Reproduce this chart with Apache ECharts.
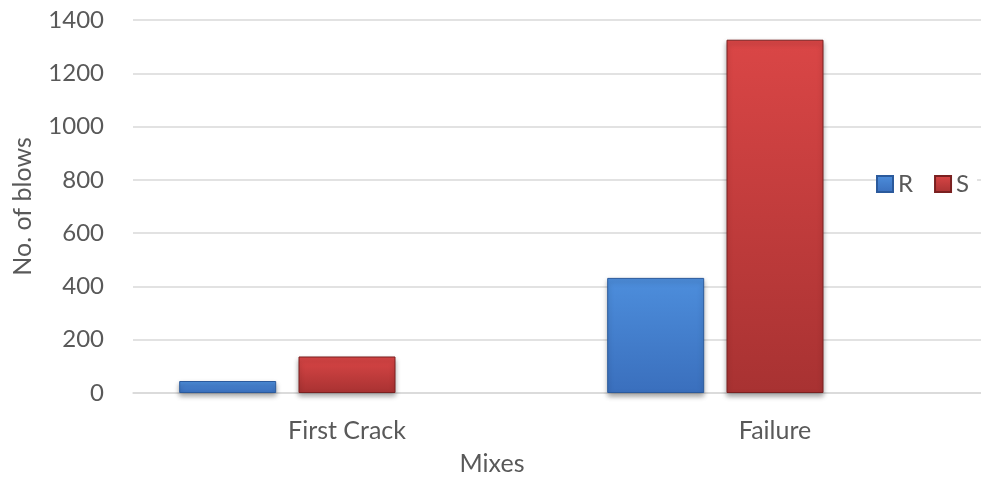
<!DOCTYPE html>
<html>
<head>
<meta charset="utf-8">
<script src="https://cdn.jsdelivr.net/npm/echarts@6/dist/echarts.min.js"></script>
<style>
html,body{margin:0;padding:0;background:#fff;overflow:hidden;width:981px;height:481px;}
#chart{width:1000px;height:481px;}
</style>
</head>
<body>
<div id="chart"></div>
<script>
const categories = ['First Crack', 'Failure'];
const seriesNames = ['R', 'S'];
const valuesR = [45, 432];
const valuesS = [137, 1326];
const yTicks = { min: 0, max: 1400, interval: 200 };
const xTitle = 'Mixes';
const yTitle = 'No. of blows';

const FONT = 'Lato, "Liberation Sans", sans-serif';
const TXT = '#595959';
const FS = 25;

function grad(top, bottom) {
  return new echarts.graphic.LinearGradient(0, 0, 0, 1, [
    { offset: 0, color: top },
    { offset: 1, color: bottom }
  ]);
}

const chart = echarts.init(document.getElementById('chart'), null, { renderer: 'canvas' });
chart.setOption({
  backgroundColor: '#fff',
  animation: false,
  textStyle: { fontFamily: FONT },
  title: {
    text: xTitle,
    left: 492,
    top: 451,
    textAlign: 'center',
    padding: 0,
    textStyle: { fontFamily: FONT, fontSize: FS, fontWeight: 'normal', color: TXT }
  },
  grid: { left: 133, right: 11, top: 20, bottom: 88, containLabel: false },
  legend: {
    data: seriesNames,
    left: 876,
    top: 171,
    orient: 'horizontal',
    itemWidth: 16,
    itemHeight: 16,
    itemGap: 21,
    padding: [1, 8, 1, 0],
    backgroundColor: '#fff',
    icon: 'rect',
    textStyle: { fontFamily: FONT, fontSize: 24, color: TXT, padding: [0, 0, 0, 0] }
  },
  xAxis: {
    type: 'category',
    data: categories,
    axisLine: { show: true, lineStyle: { color: '#d9d9d9', width: 1.5 } },
    axisTick: { show: false },
    axisLabel: { fontFamily: FONT, fontSize: FS, color: TXT, margin: 25 }
  },
  yAxis: {
    type: 'value',
    min: yTicks.min,
    max: yTicks.max,
    interval: yTicks.interval,
    name: yTitle,
    nameLocation: 'middle',
    nameGap: 98,
    nameTextStyle: { fontFamily: FONT, fontSize: FS, color: TXT },
    axisLine: { show: false },
    axisTick: { show: false },
    axisLabel: { fontFamily: FONT, fontSize: 24, color: TXT, margin: 29, formatter: v => String(v) },
    splitLine: { lineStyle: { color: '#d9d9d9', width: 1.5 } }
  },
  series: [
    {
      name: seriesNames[0],
      type: 'bar',
      data: valuesR,
      barWidth: 97,
      barGap: '23%',
      itemStyle: {
        color: grad('#4d8edc', '#3a6fbd'),
        borderColor: '#2b5a9c',
        borderWidth: 1,
        shadowColor: 'rgba(0,0,0,0.35)',
        shadowBlur: 5,
        shadowOffsetY: 3
      }
    },
    {
      name: seriesNames[1],
      type: 'bar',
      data: valuesS,
      barWidth: 97,
      barGap: '23%',
      itemStyle: {
        color: grad('#da4646', '#a83232'),
        borderColor: '#7a2020',
        borderWidth: 1,
        shadowColor: 'rgba(0,0,0,0.35)',
        shadowBlur: 5,
        shadowOffsetY: 3
      }
    },
    {
      name: '',
      type: 'bar',
      data: [null, null],
      barWidth: 97,
      barGap: '23%'
    }
  ]
});
</script>
</body>
</html>
